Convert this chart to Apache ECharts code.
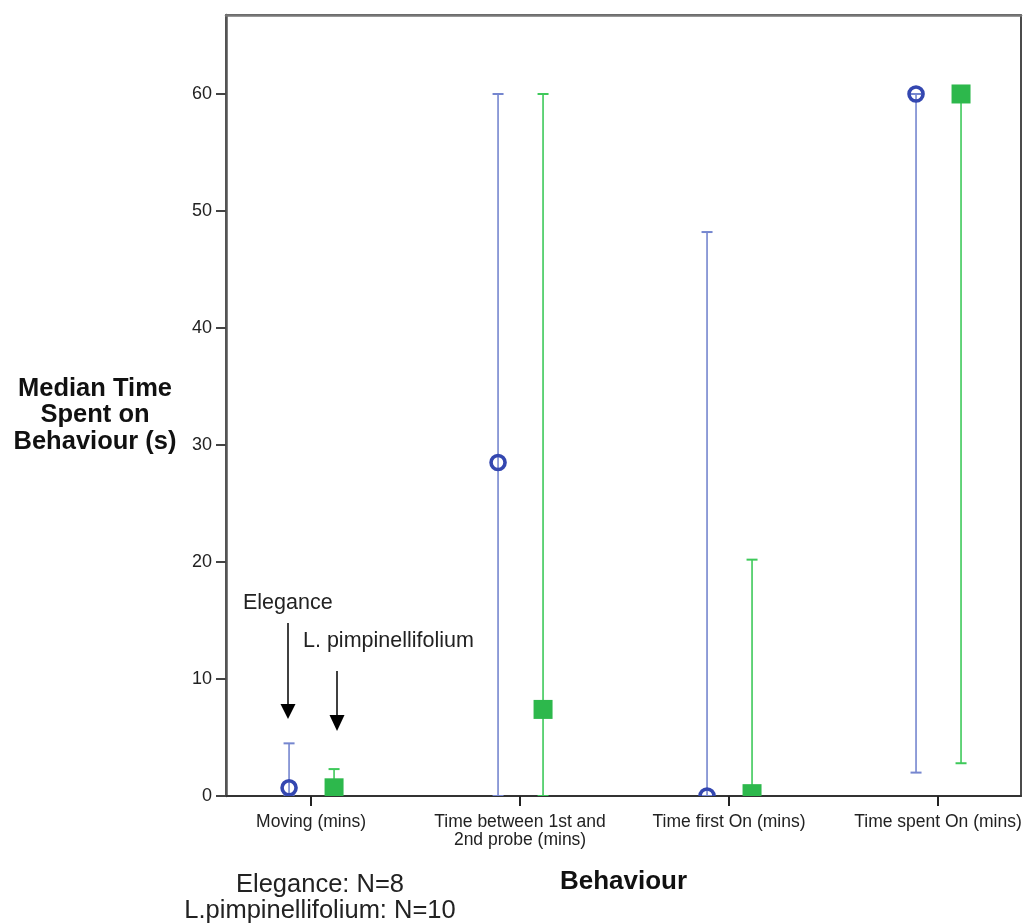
<!DOCTYPE html>
<html>
<head>
<meta charset="utf-8">
<script src="https://cdn.jsdelivr.net/npm/echarts@6/dist/echarts.min.js"></script>
<style>
  html, body { margin: 0; padding: 0; background: #fff; }
  #chart { width: 1028px; height: 924px; }
</style>
</head>
<body>
<div id="chart"></div>
<script>
// Behaviour categories on the x axis
const categories = [
  'Moving (mins)',
  'Time between 1st and\n2nd probe (mins)',
  'Time first On (mins)',
  'Time spent On (mins)'
];
const yTicks = [0, 10, 20, 30, 40, 50, 60];

// Elegance: median with lower / upper error bound
const eleganceMedian = [0.7, 28.5, 0, 60];
const eleganceLow    = [0, 0, 0, 2];
const eleganceHigh   = [4.5, 60, 48.2, 60];

// L. pimpinellifolium: median with lower / upper error bound
const pimpMedian = [0.7, 7.4, 0.2, 60];
const pimpLow    = [0, 0, 0, 2.8];
const pimpHigh   = [2.3, 60, 20.2, 60];

const FONT = '"Liberation Sans", Arial, sans-serif';

function rows(med, lo, hi) {
  return categories.map((c, i) => [i, med[i], lo[i], hi[i]]);
}

// Error bar with a marker at the median, shifted sideways by dx pixels
function makeRenderer(dx, lineColor, drawMarker) {
  return function (params, api) {
    const x = api.value(0);
    const mid = api.coord([x, api.value(1)]);
    const lo = api.coord([x, api.value(2)]);
    const hi = api.coord([x, api.value(3)]);
    const cx = mid[0] + dx;
    const cap = 5.5;
    const children = [
      { type: 'line', shape: { x1: cx, y1: lo[1], x2: cx, y2: hi[1] }, style: { stroke: lineColor, lineWidth: 1.6 } },
      { type: 'line', shape: { x1: cx - cap, y1: hi[1], x2: cx + cap, y2: hi[1] }, style: { stroke: lineColor, lineWidth: 2 } },
      { type: 'line', shape: { x1: cx - cap, y1: lo[1], x2: cx + cap, y2: lo[1] }, style: { stroke: lineColor, lineWidth: 2 } },
      drawMarker(cx, mid[1])
    ];
    return { type: 'group', children: children };
  };
}

const chart = echarts.init(document.getElementById('chart'), null, { renderer: 'canvas' });

const option = {
  backgroundColor: '#ffffff',
  animation: false,
  grid: {
    left: 226, top: 15, right: 7, bottom: 128,
    show: true, borderColor: '#111', borderWidth: 1.5, backgroundColor: 'transparent'
  },
  xAxis: [{
    type: 'value',
    min: -0.407,
    max: 3.397,
    name: 'Behaviour',
    nameLocation: 'middle',
    nameGap: 73,
    nameTextStyle: { fontFamily: FONT, fontSize: 26, fontWeight: 'bold', color: '#111' },
    splitLine: { show: false },
    axisLine: { show: true, onZero: false, lineStyle: { color: '#333', width: 2 } },
    axisTick: { show: true, length: 10, customValues: [0, 1, 2, 3], lineStyle: { color: '#222', width: 2 } },
    axisLabel: {
      customValues: [0, 1, 2, 3],
      formatter: v => categories[Math.round(v)] || '',
      margin: 17,
      fontFamily: FONT, fontSize: 17.5, color: '#222', lineHeight: 18, align: 'center'
    }
  }, {
    type: 'value',
    position: 'top',
    min: -0.407,
    max: 3.397,
    splitLine: { show: false },
    axisLine: { show: true, onZero: false, lineStyle: { color: '#777', width: 2.5 } },
    axisTick: { show: false },
    axisLabel: { show: false }
  }],
  yAxis: {
    type: 'value',
    min: 0,
    max: 66.75,
    splitLine: { show: false },
    axisLine: { show: true, onZero: false, lineStyle: { color: '#555', width: 2.5 } },
    axisTick: { show: true, length: 10, customValues: yTicks, lineStyle: { color: '#444', width: 2 } },
    axisLabel: {
      customValues: yTicks,
      margin: 14,
      fontFamily: FONT, fontSize: 18, color: '#222'
    }
  },
  series: [{
    name: 'Elegance',
    type: 'custom',
    clip: true,
    encode: { x: 0, y: [1, 2, 3] },
    data: rows(eleganceMedian, eleganceLow, eleganceHigh),
    renderItem: makeRenderer(-22, '#7586cf', (x, y) => ({
      type: 'circle',
      shape: { cx: x, cy: y, r: 7 },
      style: { fill: 'none', stroke: '#3447b0', lineWidth: 3.6 }
    })),
    z: 3
  }, {
    name: 'L. pimpinellifolium',
    type: 'custom',
    clip: true,
    encode: { x: 0, y: [1, 2, 3] },
    data: rows(pimpMedian, pimpLow, pimpHigh),
    renderItem: makeRenderer(23, '#3ec95a', (x, y) => ({
      type: 'rect',
      shape: { x: x - 9.5, y: y - 9.5, width: 19, height: 19 },
      style: { fill: '#2db84c' }
    })),
    z: 3
  }],
  graphic: [
    // y axis title
    {
      type: 'text', x: 95, y: 415,
      style: {
        text: 'Median Time\nSpent on\nBehaviour (s)',
        fontFamily: FONT, fontSize: 25.5, fontWeight: 'bold', fill: '#111',
        align: 'center', verticalAlign: 'middle', lineHeight: 26.5
      }
    },
    // series annotations with arrows
    {
      type: 'text', x: 243, y: 603,
      style: { text: 'Elegance', fontFamily: FONT, fontSize: 21.5, fill: '#222', verticalAlign: 'middle' }
    },
    {
      type: 'text', x: 303, y: 641,
      style: { text: 'L. pimpinellifolium', fontFamily: FONT, fontSize: 21.5, fill: '#222', verticalAlign: 'middle' }
    },
    { type: 'line', shape: { x1: 288, y1: 623, x2: 288, y2: 706 }, style: { stroke: '#000', lineWidth: 1.5 } },
    { type: 'polygon', shape: { points: [[280.5, 704], [295.5, 704], [288, 719]] }, style: { fill: '#000' } },
    { type: 'line', shape: { x1: 337, y1: 671, x2: 337, y2: 717 }, style: { stroke: '#000', lineWidth: 1.5 } },
    { type: 'polygon', shape: { points: [[329.5, 715], [344.5, 715], [337, 731]] }, style: { fill: '#000' } },
    // sample sizes
    {
      type: 'text', x: 320, y: 898,
      style: {
        text: 'Elegance: N=8\nL.pimpinellifolium: N=10',
        fontFamily: FONT, fontSize: 25.5, fill: '#222',
        align: 'center', verticalAlign: 'middle', lineHeight: 26
      }
    }
  ]
};

chart.setOption(option);
</script>
</body>
</html>
